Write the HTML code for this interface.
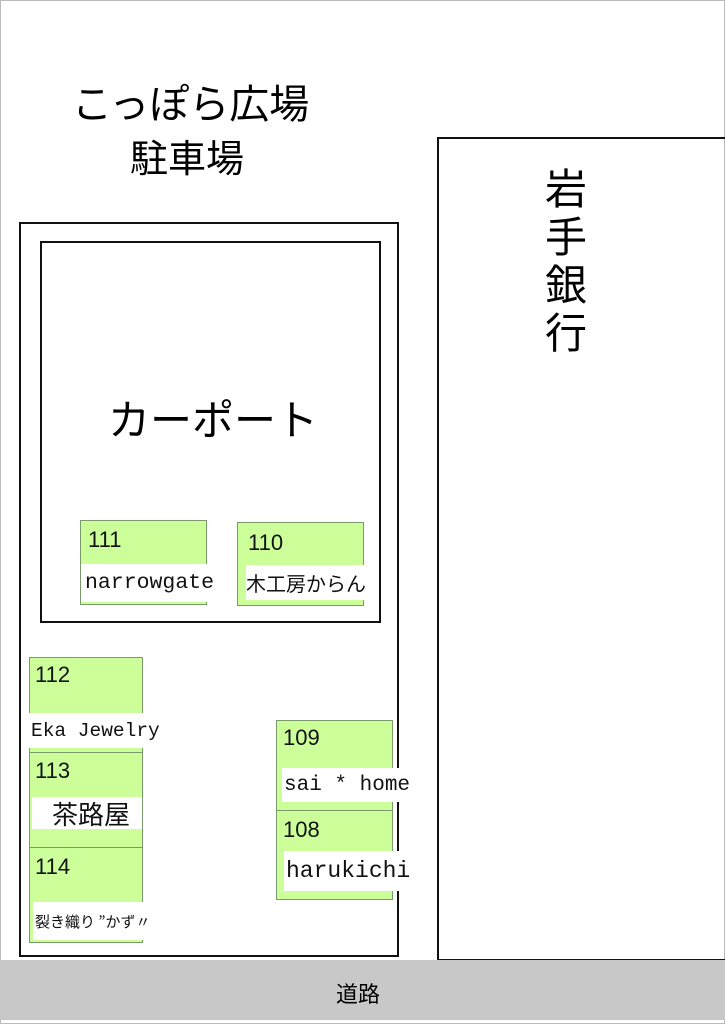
<!DOCTYPE html><html><head><meta charset="utf-8"><style>
body{margin:0;width:725px;height:1024px;position:relative;background:#fff;font-family:"Liberation Sans","Noto Sans CJK JP",sans-serif;overflow:hidden}
div{position:absolute;box-sizing:border-box}
.g{background:#ccff99;border:1px solid #7a9a6a}
.n{font-size:22px;color:#111;line-height:1}
.w{background:#fff;font-family:"Liberation Mono","Noto Sans CJK JP",monospace;color:#111;white-space:nowrap;display:flex;align-items:center}
</style></head><body>
<div style="left:0;top:0;width:725px;height:1024px;border:1px solid #bbb"></div>
<div style="left:72px;top:85px;font-size:40px;line-height:1;letter-spacing:0px">こっぽら広場</div>
<div style="left:130px;top:141px;font-size:38px;line-height:1">駐車場</div>
<div style="left:19px;top:222px;width:380px;height:735px;border:2px solid #111"></div>
<div style="left:40px;top:241px;width:341px;height:382px;border:2px solid #111"></div>
<div style="left:108px;top:400px;font-size:42px;line-height:1">カーポート</div>
<div style="left:437px;top:137px;width:290px;height:824px;border:2px solid #111"></div>
<div style="left:545px;top:166px;font-size:42px;line-height:48px;width:48px">岩<br>手<br>銀<br>行</div>
<div style="left:0;top:960px;width:725px;height:60px;background:#c8c8c8"></div>
<div style="left:336px;top:977px;font-size:22px">道路</div>

<div class="g" style="left:80px;top:520px;width:127px;height:85px"></div>
<div class="n" style="left:88px;top:529px">111</div>
<div class="w" style="left:81px;top:564px;width:135px;height:38px;font-size:21.5px;padding-left:4px">narrowgate</div>

<div class="g" style="left:237px;top:522px;width:127px;height:84px"></div>
<div class="n" style="left:248px;top:532px">110</div>
<div class="w" style="left:246px;top:565px;width:131px;height:35px;font-size:20px;font-family:'Noto Sans CJK JP',sans-serif">木工房からん</div>

<div class="g" style="left:29px;top:657px;width:114px;height:96px"></div>
<div class="n" style="left:35px;top:664px">112</div>
<div class="w" style="left:29px;top:713px;width:131px;height:35px;font-size:19.5px;padding-left:2px">Eka Jewelry</div>

<div class="g" style="left:29px;top:752px;width:114px;height:96px"></div>
<div class="n" style="left:35px;top:760px">113</div>
<div class="w" style="left:32px;top:797px;width:110px;height:32px;font-size:26px;padding-left:20px;font-family:'Noto Sans CJK JP',sans-serif">茶路屋</div>

<div class="g" style="left:29px;top:847px;width:114px;height:96px"></div>
<div class="n" style="left:35px;top:856px">114</div>
<div class="w" style="left:33px;top:902px;width:117px;height:38px;font-size:15px;padding-left:2px;font-family:'Noto Sans CJK JP',sans-serif">裂き織り ”かず〃</div>

<div class="g" style="left:276px;top:720px;width:117px;height:91px"></div>
<div class="n" style="left:283px;top:727px">109</div>
<div class="w" style="left:282px;top:768px;width:131px;height:34px;font-size:21px;padding-left:2px">sai * home</div>

<div class="g" style="left:276px;top:810px;width:117px;height:90px"></div>
<div class="n" style="left:283px;top:819px">108</div>
<div class="w" style="left:284px;top:851px;width:128px;height:40px;font-size:23px;padding-left:2px">harukichi</div>
</body></html>
